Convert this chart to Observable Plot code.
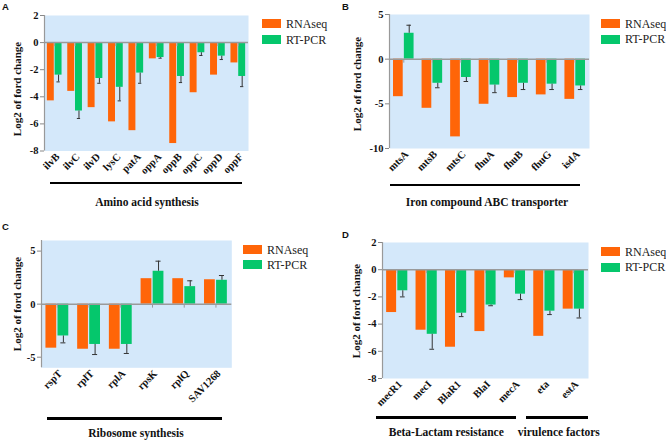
<!DOCTYPE html>
<html><head><meta charset="utf-8">
<script src="https://cdn.jsdelivr.net/npm/d3@7"></script>
<script src="https://cdn.jsdelivr.net/npm/@observablehq/plot@0.6"></script>
<style>
body{margin:0;background:#fff;}
#root{position:relative;width:666px;height:440px;overflow:hidden;font-family:"Liberation Serif","DejaVu Serif","Times New Roman",Times,serif;}
.plotbox{position:absolute;}
.ylab{position:absolute;font-weight:bold;font-size:11px;white-space:nowrap;transform:translate(-50%,-50%) rotate(-90deg);color:#111;font-family:"Liberation Serif","DejaVu Serif",serif;}
.title{position:absolute;font-weight:bold;font-size:11.5px;white-space:nowrap;transform:translate(-50%,-50%);color:#111;font-family:"Liberation Serif","DejaVu Serif",serif;}
.uline{position:absolute;height:2.5px;background:#000;}
.letter{position:absolute;font-family:"Liberation Sans",Arial,sans-serif;font-size:9.5px;font-weight:bold;color:#111;}
.sw{position:absolute;width:19px;height:9px;}
.lt{position:absolute;font-size:12px;transform:translateY(-50%);white-space:nowrap;color:#222;font-family:"Liberation Serif","DejaVu Serif",serif;}
</style></head><body><div id="root"></div><script>
// ---------- data ----------
const seriesNames = ["RNAseq", "RT-PCR"];

const genesA = ["ilvB","ilvC","ilvD","lysC","patA","oppA","oppB","oppC","oppD","oppF"];
const rnaA = [-4.3,-3.6,-4.8,-5.85,-6.5,-1.2,-7.45,-3.7,-2.4,-1.5];
const pcrA = [-2.4,-5.05,-2.65,-3.3,-2.25,-1.1,-2.5,-0.75,-1.0,-2.5];
const errA = [0.5,0.55,0.35,1.0,0.75,0.05,0.45,0.2,0.25,0.75];
const ticksA = [2,0,-2,-4,-6,-8];
const domainA = [-8,2];

const genesB = ["mtsA","mtsB","mtsC","fhuA","fhuB","fhuG","isdA"];
const rnaB = [-4.2,-5.5,-8.7,-5.05,-4.3,-4.0,-4.5];
const pcrB = [2.9,-2.7,-2.05,-2.9,-2.7,-2.8,-3.0];
const errB = [0.9,0.5,0.45,0.85,0.7,0.6,0.4];
const ticksB = [5,0,-5,-10];
const domainB = [-10,5];

const genesC = ["rspT","rplT","rplA","rpsK","rplQ","SAV1268"];
const rnaC = [-4.15,-4.25,-4.25,2.4,2.4,2.3];
const pcrC = [-3.0,-3.8,-3.8,3.1,1.65,2.25];
const errC = [0.65,0.95,0.85,0.95,0.55,0.45];
const ticksC = [5,0,-5];
const domainC = [-6,6];

const genesD = ["mecR1","mecI","BlaR1","BlaI","mecA","eta","estA"];
const rnaD = [-3.15,-4.45,-5.7,-4.55,-0.6,-4.9,-2.9];
const pcrD = [-1.55,-4.75,-3.2,-2.6,-1.8,-3.05,-2.9];
const errD = [0.45,1.1,0.25,0.05,0.4,0.25,0.65];
const ticksD = [2,0,-2,-4,-6,-8];
const domainD = [-8,2];

const yTitle = "Log2 of ford change";
const groupTitlesA = ["Amino acid synthesis"];
const groupTitlesB = ["Iron compound ABC transporter"];
const groupTitlesC = ["Ribosome synthesis"];
const groupTitlesD = ["Beta-Lactam resistance", "virulence factors"];
const letters = ["A","B","C","D"];

// ---------- styles / layout ----------
const ORANGE = "#ff6508";
const GREEN = "#05c76c";
const BG = "#d4e8fa";
const SERIF = '"Liberation Serif","DejaVu Serif","Times New Roman",Times,serif';
const root = document.getElementById("root");

function el(cls, css, text) {
  const d = document.createElement("div");
  d.className = cls;
  Object.assign(d.style, css);
  if (text != null) d.textContent = text;
  root.appendChild(d);
  return d;
}

function panel(genes, rna, pcr, err, yTicks, yDomain, L) {
  const rows = genes.map((g, i) => ({i, g, rna: rna[i], pcr: pcr[i], err: err[i]}));
  const n = genes.length;
  const mL = 40, mT = 6, mR = 4, mB = 42;
  const fw = L.x1 - L.x0, fh = L.y1 - L.y0;
  const endv = d => d.pcr + Math.sign(d.pcr) * d.err;
  const chart = Plot.plot({
    width: fw + mL + mR, height: fh + mT + mB,
    marginLeft: mL, marginTop: mT, marginRight: mR, marginBottom: mB,
    style: {fontFamily: SERIF, fontSize: "10.5px", fontWeight: "bold", color: "#111", background: "transparent", overflow: "visible"},
    x: {type: "linear", domain: [-0.5, n - 0.5]},
    y: {domain: yDomain},
    marks: [
      Plot.frame({fill: BG, stroke: "none"}),
      Plot.rectY(rows, {x1: d => d.i - 0.36, x2: d => d.i - 0.02, y: "rna", fill: ORANGE}),
      Plot.rectY(rows, {x1: d => d.i + 0.02, x2: d => d.i + 0.36, y: "pcr", fill: GREEN}),
      Plot.ruleX(rows, {x: d => d.i + 0.19, y1: "pcr", y2: endv, stroke: "#333", strokeWidth: 1}),
      Plot.ruleY(rows, {y: endv, x1: d => d.i + 0.11, x2: d => d.i + 0.27, stroke: "#333", strokeWidth: 1}),
      Plot.ruleY([0], {stroke: "#9a9a9a", strokeWidth: 1.5}),
      Plot.ruleX(rows, {x: "i", y1: 0, y2: 0, insetBottom: -4, stroke: "#9a9a9a"}),
      Plot.ruleX([-0.5], {stroke: "#999", strokeWidth: 1.2}),
      Plot.axisY({ticks: yTicks, tickFormat: d => String(d), tickSize: 4, tickPadding: 2, stroke: "#888", label: null, fontSize: 10.5, fontFamily: SERIF, fontWeight: "bold"}),
      Plot.axisX({ticks: rows.map(d => d.i), tickFormat: i => genes[i], tickRotate: -45, tickSize: 0, tickPadding: 4, dx: 3, label: null, fontSize: 10.5, fontFamily: SERIF, fontWeight: "bold"})
    ]
  });
  const box = el("plotbox", {left: (L.x0 - mL) + "px", top: (L.y0 - mT) + "px"});
  box.appendChild(chart);

  el("ylab", {left: L.ylx + "px", top: L.yly + "px"}, yTitle);
  L.titles.forEach((t, k) => {
    el("uline", {left: L.lines[k][0] + "px", width: (L.lines[k][1] - L.lines[k][0]) + "px", top: (L.lineY - 1.25) + "px"});
    el("title", {left: L.tx[k] + "px", top: L.ty + "px"}, t);
  });
  el("letter", {left: L.lx + "px", top: L.ly + "px"}, L.letter);
  seriesNames.forEach((s, k) => {
    el("sw", {left: L.sx + "px", top: L.sy[k] + "px", background: k === 0 ? ORANGE : GREEN});
    el("lt", {left: (L.sx + 24) + "px", top: (L.sy[k] + 4.5) + "px"}, s);
  });
}

panel(genesA, rnaA, pcrA, errA, ticksA, domainA, {
  x0: 44, x1: 248, y0: 14.5, y1: 150,
  ylx: 17, yly: 89, titles: groupTitlesA, lines: [[50, 242]], lineY: 183, tx: [147], ty: 201.5,
  letter: letters[0], lx: 2, ly: 1, sx: 262, sy: [19, 35]
});
panel(genesB, rnaB, pcrB, errB, ticksB, domainB, {
  x0: 389, x1: 589, y0: 14.3, y1: 148.3,
  ylx: 356.5, yly: 84, titles: groupTitlesB, lines: [[390, 580]], lineY: 185, tx: [487], ty: 201.5,
  letter: letters[1], lx: 342, ly: 1, sx: 601, sy: [19, 34.7]
});
panel(genesC, rnaC, pcrC, errC, ticksC, domainC, {
  x0: 40.7, x1: 231, y0: 240, y1: 367.3,
  ylx: 17, yly: 304, titles: groupTitlesC, lines: [[46.7, 222.3]], lineY: 418.7, tx: [136], ty: 433,
  letter: letters[2], lx: 2, ly: 221, sx: 243, sy: [245, 260]
});
panel(genesD, rnaD, pcrD, errD, ticksD, domainD, {
  x0: 382, x1: 588, y0: 242.3, y1: 378.3,
  ylx: 356, yly: 311, titles: groupTitlesD, lines: [[376.3, 515.7], [525.7, 588]], lineY: 417.7, tx: [446.3, 558.8], ty: 432.3,
  letter: letters[3], lx: 342, ly: 229, sx: 601, sy: [247.3, 262.7]
});
</script></body></html>
